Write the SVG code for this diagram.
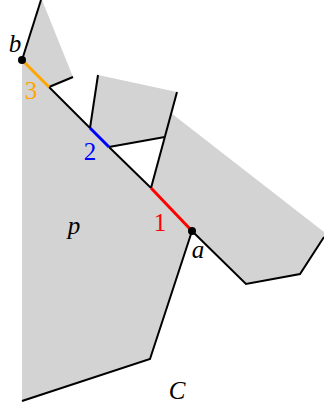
<svg xmlns="http://www.w3.org/2000/svg" width="324" height="409" viewBox="0 0 324 409">
<style>
.reg{fill:#d3d3d3;stroke:none}
.ln{fill:none;stroke:#000;stroke-width:2;stroke-linejoin:miter;stroke-linecap:butt}
.seg{fill:none;stroke-width:3;stroke-linecap:butt}
.lab{font-family:"Liberation Serif","DejaVu Serif",serif;font-size:25px;text-anchor:middle}
.it{font-style:italic}
</style>
<rect width="324" height="409" fill="#fff"/>
<g id="region-p">
<polygon class="reg" points="22,60 192,231 150,359 22,401"/>
</g>
<g id="region-wedge">
<polygon class="reg" points="22,60 41,0 42,0 73,77 49,87"/>
</g>
<g id="region-middle">
<polygon class="reg" points="90,128 98,75 177,92 164.8,137 109,147"/>
</g>
<g id="region-right">
<polygon class="reg" points="171,113 324,232 324,237 300,274 246,284 192,231 151,188"/>
</g>
<g id="connectors">
<polyline class="ln" points="22,60 41,0"/>
<polyline class="ln" points="49,87 73,77"/>
<polyline class="ln" points="90,128 98,75"/>
<polyline class="ln" points="109,147 164.8,137"/>
<polyline class="ln" points="177,92 151,188"/>
<polyline class="ln" points="192,231 150,359 22,401"/>
<polyline class="ln" points="192,231 246,284 300,274 324,237"/>
<polyline class="ln" points="49,87 90,128"/>
<polyline class="ln" points="109,147 151,188"/>
<line class="seg" x1="22" y1="60" x2="49" y2="87" stroke="#ffa500"/>
<line class="seg" x1="90" y1="128" x2="109" y2="147" stroke="#0000ff"/>
<line class="seg" x1="151" y1="188" x2="192" y2="231" stroke="#ff0000"/>
</g>
<g id="point-b">
<circle cx="22" cy="60" r="4" fill="#000"/>
<text class="lab it" x="15" y="52">b</text>
</g>
<g id="point-a">
<circle cx="192" cy="231" r="4" fill="#000"/>
<text class="lab it" x="198" y="258">a</text>
</g>
<g id="labels">
<text class="lab" x="31" y="99" fill="#ffa500">3</text>
<text class="lab" x="90" y="160" fill="#0000ff">2</text>
<text class="lab" x="160" y="231" fill="#ff0000">1</text>
<text class="lab it" x="74" y="234">p</text>
<text class="lab it" x="177" y="399">C</text>
</g>
</svg>
